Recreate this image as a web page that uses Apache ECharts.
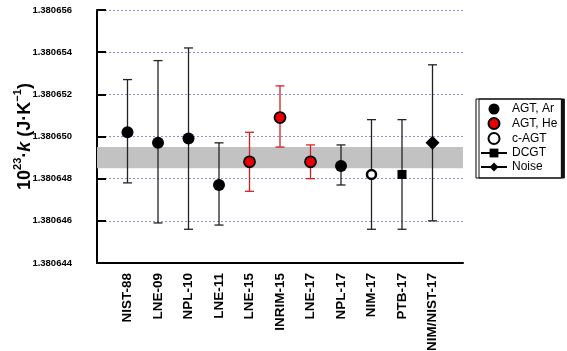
<!DOCTYPE html>
<html>
<head>
    <meta charset="utf-8">
    <title>Boltzmann constant comparison</title>
    <script src="https://cdn.jsdelivr.net/npm/echarts@6/dist/echarts.min.js"></script>
    <style>
        html, body { margin: 0; padding: 0; background: #fff; }
    </style>
</head>
<body>
    <div id="main" style="width: 567px;height:351px;"></div>
    <script type="text/javascript">
        // labels and values
        const labels = ['NIST-88', 'LNE-09', 'NPL-10', 'LNE-11', 'LNE-15', 'INRIM-15', 'LNE-17', 'NPL-17', 'NIM-17', 'PTB-17', 'NIM/NIST-17'];
        const methods = ['AGT, Ar', 'AGT, Ar', 'AGT, Ar', 'AGT, Ar', 'AGT, He', 'AGT, He', 'AGT, He', 'AGT, Ar', 'c-AGT', 'DCGT', 'Noise'];
        const kValues = [1.3806502, 1.3806497, 1.3806499, 1.3806477, 1.3806488, 1.3806509, 1.3806488, 1.3806486, 1.3806482, 1.3806482, 1.3806497];
        const kUpper = [1.3806527, 1.3806536, 1.3806542, 1.3806497, 1.3806502, 1.3806524, 1.3806496, 1.3806496, 1.3806508, 1.3806508, 1.3806534];
        const kLower = [1.3806478, 1.3806459, 1.3806456, 1.3806458, 1.3806474, 1.3806495, 1.3806480, 1.3806477, 1.3806456, 1.3806456, 1.3806460];
        const refValue = 1.3806490;
        const refBand = [1.3806485, 1.3806495];
        const legendNames = ['AGT, Ar', 'AGT, He', 'c-AGT', 'DCGT', 'Noise'];

        var myChart = echarts.init(document.getElementById('main'));

        // points of one method, x = position 1..11
        function pointsOf(name) {
            const out = [];
            labels.forEach((l, i) => {
                if (methods[i] === name) out.push([i + 1, kValues[i]]);
            });
            return out;
        }

        const errData = labels.map((l, i) => [i + 1, kLower[i], kUpper[i]]);

        var option = {
            animation: false,
            grid: { left: 97, right: 104, top: 10, bottom: 88, outerBoundsMode: 'none' },
            legend: {
                orient: 'vertical',
                left: 476,
                top: 99,
                data: legendNames,
                itemWidth: 26,
                itemHeight: 11,
                itemGap: 2,
                padding: [4, 4, 5, 4],
                borderColor: '#000',
                borderWidth: 1,
                backgroundColor: '#fff',
                shadowColor: '#111',
                shadowOffsetX: 3,
                shadowOffsetY: 0,
                shadowBlur: 0,
                textStyle: { fontFamily: 'Liberation Sans, Arial', fontSize: 12, color: '#000', lineHeight: 11 }
            },
            xAxis: {
                type: 'value',
                min: 0,
                max: 12,
                interval: 1,
                axisLine: { show: true, lineStyle: { color: '#000', width: 2 } },
                axisTick: { show: false },
                splitLine: { show: false },
                axisLabel: {
                    rotate: 90,
                    margin: 10,
                    color: '#000',
                    fontWeight: 'bold',
                    fontSize: 13.5,
                    fontFamily: 'Liberation Sans, Arial',
                    formatter: v => labels[v - 1] || ''
                }
            },
            yAxis: {
                type: 'value',
                min: 1.380644,
                max: 1.380656,
                interval: 0.000002,
                name: '{b|10}{s|23}{b|·}{i|k}{b| (J·K}{s|−1}{b|)}',
                nameLocation: 'middle',
                nameRotate: 90,
                nameGap: 63,
                nameMoveOverlap: false,
                nameTextStyle: {
                    rich: {
                        b: { fontSize: 18, fontWeight: 'bold', color: '#000', fontFamily: 'Liberation Sans, Arial', lineHeight: 22, verticalAlign: 'bottom' },
                        i: { fontSize: 18, fontWeight: 'bold', fontStyle: 'italic', color: '#000', fontFamily: 'Liberation Sans, Arial', lineHeight: 22, verticalAlign: 'bottom' },
                        s: { fontSize: 11, fontWeight: 'bold', color: '#000', fontFamily: 'Liberation Sans, Arial', lineHeight: 12, verticalAlign: 'top' }
                    }
                },
                axisLine: { show: true, lineStyle: { color: '#000', width: 2 } },
                axisTick: { show: true, inside: true, length: 9, lineStyle: { color: '#000', width: 2 } },
                axisLabel: {
                    margin: 25,
                    color: '#000',
                    fontWeight: 'bold',
                    fontSize: 9.5,
                    fontFamily: 'Liberation Sans, Arial',
                    formatter: v => v.toFixed(6)
                },
                splitLine: { show: true, lineStyle: { color: '#8f8fd0', type: [2, 2], width: 1 } }
            },
            series: [
                {
                    name: 'ref',
                    type: 'line',
                    data: [],
                    z: 1,
                    silent: true,
                    markArea: {
                        silent: true,
                        itemStyle: { color: '#c2c2c2' },
                        data: [[{ yAxis: refBand[0] }, { yAxis: refBand[1] }]]
                    },
                    markLine: {
                        silent: true,
                        symbol: 'none',
                        label: { show: false },
                        lineStyle: { color: '#000', width: 1.5, type: 'solid' },
                        data: [{ yAxis: refValue }]
                    }
                },
                {
                    name: 'err',
                    type: 'custom',
                    z: 2,
                    data: errData,
                    renderItem: function (params, api) {
                        const i = params.dataIndex;
                        const top = api.coord([api.value(0), api.value(2)]);
                        const bot = api.coord([api.value(0), api.value(1)]);
                        const c = methods[i] === 'AGT, He' ? '#d42020' : '#222';
                        const w = 4.5;
                        const st = { stroke: c, lineWidth: 1.3 };
                        return {
                            type: 'group',
                            children: [
                                { type: 'line', shape: { x1: top[0], y1: top[1], x2: bot[0], y2: bot[1] }, style: st },
                                { type: 'line', shape: { x1: top[0] - w, y1: top[1], x2: top[0] + w, y2: top[1] }, style: st },
                                { type: 'line', shape: { x1: bot[0] - w, y1: bot[1], x2: bot[0] + w, y2: bot[1] }, style: st }
                            ]
                        };
                    }
                },
                {
                    name: 'AGT, Ar',
                    type: 'scatter',
                    z: 3,
                    symbol: 'circle',
                    symbolSize: 12,
                    itemStyle: { color: '#000', opacity: 1 },
                    data: pointsOf('AGT, Ar')
                },
                {
                    name: 'AGT, He',
                    type: 'scatter',
                    z: 3,
                    symbol: 'circle',
                    symbolSize: 11,
                    itemStyle: { color: '#e80000', borderColor: '#000', borderWidth: 1.8, opacity: 1 },
                    data: pointsOf('AGT, He')
                },
                {
                    name: 'c-AGT',
                    type: 'scatter',
                    z: 3,
                    symbol: 'circle',
                    symbolSize: 9,
                    itemStyle: { color: '#fff', borderColor: '#000', borderWidth: 2.5, opacity: 1 },
                    data: pointsOf('c-AGT')
                },
                {
                    name: 'DCGT',
                    type: 'line',
                    z: 3,
                    symbol: 'rect',
                    symbolSize: 9,
                    showSymbol: true,
                    itemStyle: { color: '#000' },
                    lineStyle: { color: '#000', width: 2 },
                    data: pointsOf('DCGT')
                },
                {
                    name: 'Noise',
                    type: 'line',
                    z: 3,
                    symbol: 'diamond',
                    symbolSize: 14,
                    showSymbol: true,
                    itemStyle: { color: '#000' },
                    lineStyle: { color: '#000', width: 2 },
                    data: pointsOf('Noise')
                }
            ]
        };

        myChart.setOption(option);
    </script>
</body>
</html>
